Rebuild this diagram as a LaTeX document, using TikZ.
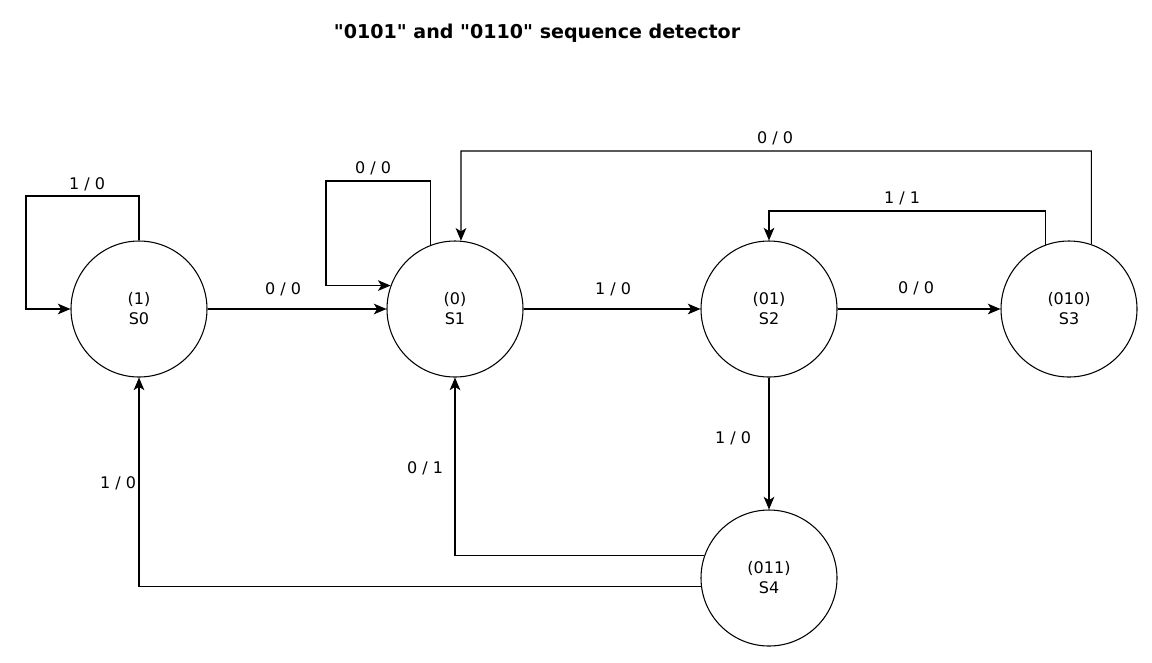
\documentclass[tikz,border=0pt]{standalone}
\usepackage{fontspec}
\setmainfont{DejaVu Sans}
\newfontfamily\titlefont{DejaVu Sans}[Ligatures=TeXOff]
\usepackage{tikz}
\usetikzlibrary{positioning, arrows.meta, calc}

\begin{document}
\begin{tikzpicture}[
      x=0.75pt, y=-0.75pt,
      statecirc/.style={circle, draw, line width=0.8pt, minimum size=102pt, inner sep=0pt, align=center, font=\fontsize{12}{15}\selectfont},
      lbl/.style={inner sep=1pt, font=\fontsize{12}{14}\selectfont},
      arrow/.style={->, >={Stealth[length=9.5pt, width=8pt, inset=2.5pt]}, line width=0.8pt}
    ]
      \useasboundingbox (0,0) rectangle (1152,662);

      % Title
      \node[font=\titlefont\bfseries\fontsize{14.3}{17}\selectfont] (title) at (537,33) {"0101" and "0110" sequence detector};

      % States
      \node[statecirc] (s0) at (139,309) {(1)\\S0};
      \node[statecirc] (s1) at (455,309) {(0)\\S1};
      \node[statecirc] (s2) at (769,309) {(01)\\S2};
      \node[statecirc] (s3) at (1069,309) {(010)\\S3};
      \node[statecirc] (s4) at (769,578) {(011)\\S4};

      % Transitions
      \draw[arrow] (s0.north) |- (26,196) |- (s0.west);
      \draw[arrow] (s1.111) |- (326,181) |- (s1.160);
      \draw[arrow] (s0) -- (s1);
      \draw[arrow] (s1) -- (s2);
      \draw[arrow] (s2) -- (s3);
      \draw[arrow] (s3.71) |- (461,151) -- (s1.85);
      \draw[arrow] (s3.110) |- (769,211) -- (s2.north);
      \draw[arrow] (s2) -- (s4);
      \draw[arrow] (s4.161) -| (s1.south);
      \draw[arrow] (s4.187) -| (s0.south);

      % Labels
      \node[lbl] (l00) at (87,184) {1 / 0};
      \node[lbl] (l11) at (373,168) {0 / 0};
      \node[lbl] (l01) at (283,289) {0 / 0};
      \node[lbl] (l12) at (613,289) {1 / 0};
      \node[lbl] (l23) at (916,288) {0 / 0};
      \node[lbl] (l31) at (775,138) {0 / 0};
      \node[lbl] (l32) at (902,198) {1 / 1};
      \node[lbl] (l24) at (733,438) {1 / 0};
      \node[lbl] (l41) at (425,468) {0 / 1};
      \node[lbl] (l40) at (118,483) {1 / 0};
    \end{tikzpicture}
\end{document}
